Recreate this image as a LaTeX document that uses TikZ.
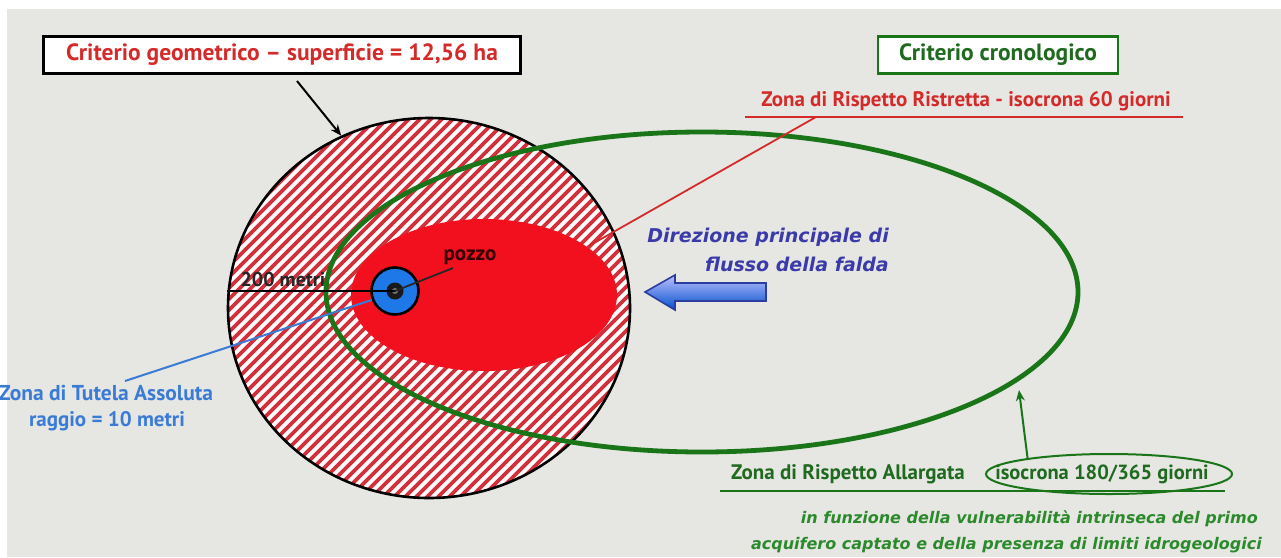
\documentclass[tikz,border=0pt]{standalone}
\usepackage{fontspec}
\setmainfont{PT Sans}
\newfontfamily\dv{DejaVu Sans}
\usetikzlibrary{arrows.meta,shapes.geometric,calc}
\definecolor{bg}{HTML}{E6E6E3}
\definecolor{rtext}{HTML}{D42A2A}
\definecolor{gline}{HTML}{1A7519}
\definecolor{gtext}{HTML}{1F6A1F}
\definecolor{gtext2}{HTML}{2C8A2C}
\definecolor{rfill}{HTML}{F20F1E}
\definecolor{hatchc}{HTML}{D3303C}
\definecolor{wblue}{HTML}{1E78E8}
\definecolor{tblue}{HTML}{3A7BD5}
\definecolor{dblue}{HTML}{3A3AA8}
\definecolor{ablue}{HTML}{2B3D9E}
\tikzset{
  lbl/.style={inner sep=0pt, font=\fontsize{#1}{#1}\selectfont\bfseries},
  lbl/.default=16,
  itl/.style={inner sep=0pt, font=\dv\fontsize{#1}{#1}\selectfont\bfseries\itshape},
  titlebox/.style={line width=2.6pt, fill=white, minimum height=37pt, inner sep=0pt,
     font=\fontsize{23.5}{23.5}\selectfont\bfseries},
  arr/.style={line width=2pt, -{Stealth[length=11pt,width=9pt]}},
}
\begin{document}
\begin{tikzpicture}[x=1pt,y=-1pt]
\useasboundingbox (0,0) rectangle (1281,557);
\fill[white] (0,0) rectangle (1281,557);
\fill[bg] (7,9) rectangle (1281,557);

% geometric circle with hatching
\coordinate (C) at (429,308);
\begin{scope}
  \clip (C) ellipse [x radius=201, y radius=190];
  \fill[white] (C) ellipse [x radius=201, y radius=190];
  \foreach \c in {330,341,...,1150}
    \draw[hatchc, line width=3.6pt] (\c,0) -- ({\c-600},600);
\end{scope}
\node[ellipse, draw=black, line width=2.6pt, minimum width=402pt, minimum height=380pt, inner sep=0pt] (geo) at (C) {};

% restricted zone (red)
\node[ellipse, fill=rfill, minimum width=266pt, minimum height=152pt, inner sep=0pt] (rz) at (484,295) {};

% extended zone (green)
\node[ellipse, draw=gline, line width=4.8pt, minimum width=752pt, minimum height=320pt, inner sep=0pt] (gz) at (702,292) {};

% well
\node[circle, fill=wblue, draw=black, line width=2.6pt, minimum size=47pt, inner sep=0pt] (well) at (395,291) {};
\node[circle, fill=black!90, minimum size=17pt, inner sep=0pt] (wcore) at (well) {};
\node[circle, fill=black!55, minimum size=6pt, inner sep=0pt] (wdot) at (well) {};

% 200 metri radius
\draw[line width=2pt] (well.center) -- (well.center -| geo.west);
\node[lbl=20, text=black!85] (r200) at (283,279) {200 metri};

% pozzo
\node[lbl=21, text=black!80!red] (pozzo) at (470,257) {pozzo};
\coordinate (pz) at (453,268);
\draw[line width=1.8pt, black!85] (well.center) -- (pz);

% Zona di tutela assoluta
\node[lbl=21.5, text=tblue] (tut1) at (106,393) {Zona di Tutela Assoluta};
\node[lbl=21, text=tblue] (tut2) at (107,421) {raggio = 10 metri};
\coordinate (tz) at (125,381);
\draw[line width=2pt, tblue] (well.201) -- (tz);

% title boxes
\node[titlebox, draw=black, text=rtext, minimum width=477pt] (box1) at (282,55) {Criterio geometrico -- superficie = 12,56 ha};
\node[titlebox, draw=gline, text=gtext, minimum width=240pt] (box2) at (998,55) {Criterio cronologico};
\coordinate (a1) at (297,81);
\draw[arr] (a1) -- (geo.117);

% restricted zone label
\node[lbl=21, text=rtext] (rr) at (966,101) {Zona di Rispetto Ristretta - isocrona 60 giorni};
\coordinate (ul1) at (745,117);
\coordinate (ul2) at (1183,117);
\coordinate (ulr) at (816,117);
\draw[line width=2.2pt, rtext] (ul1) -- (ul2);
\draw[line width=1.8pt, rtext] (ulr) -- (rz.25);

% flow direction
\node[itl=19, text=dblue, anchor=east] (dir1) at (889,237) {Direzione principale di};
\node[itl=19, text=dblue, anchor=east] (dir2) at (889,264) {flusso della falda};
\shade[top color=blue!25!white, bottom color=blue!60!cyan!80!black, draw=ablue, line width=1.6pt]
  (645,292) -- (675,275) -- (675,283) -- (766,283) -- (766,301) -- (675,301) -- (675,310) -- cycle;

% extended zone label
\node[lbl=21, text=gtext] (za) at (848,474) {Zona di Rispetto Allargata};
\node[lbl=20.5, text=gtext] (iso) at (1102,474) {isocrona 180/365 giorni};
\node[ellipse, draw=gline, line width=2pt, minimum width=246pt, minimum height=40pt, inner sep=0pt] (oval) at (1109,474) {};
\coordinate (gl1) at (720,491);
\coordinate (gl2) at (1225,491);
\draw[line width=2.5pt, gline] (gl1) -- (gl2);
\coordinate (gtip) at (1019,390);
\draw[arr, gline] (oval.169) -- (gtip);

% note
\node[itl=16, text=gtext2, anchor=east] (it1) at (1258,519) {in funzione della vulnerabilità intrinseca del primo};
\node[itl=16, text=gtext2, anchor=east] (it2) at (1262,545) {acquifero captato e della presenza di limiti idrogeologici};
\end{tikzpicture}
\end{document}
